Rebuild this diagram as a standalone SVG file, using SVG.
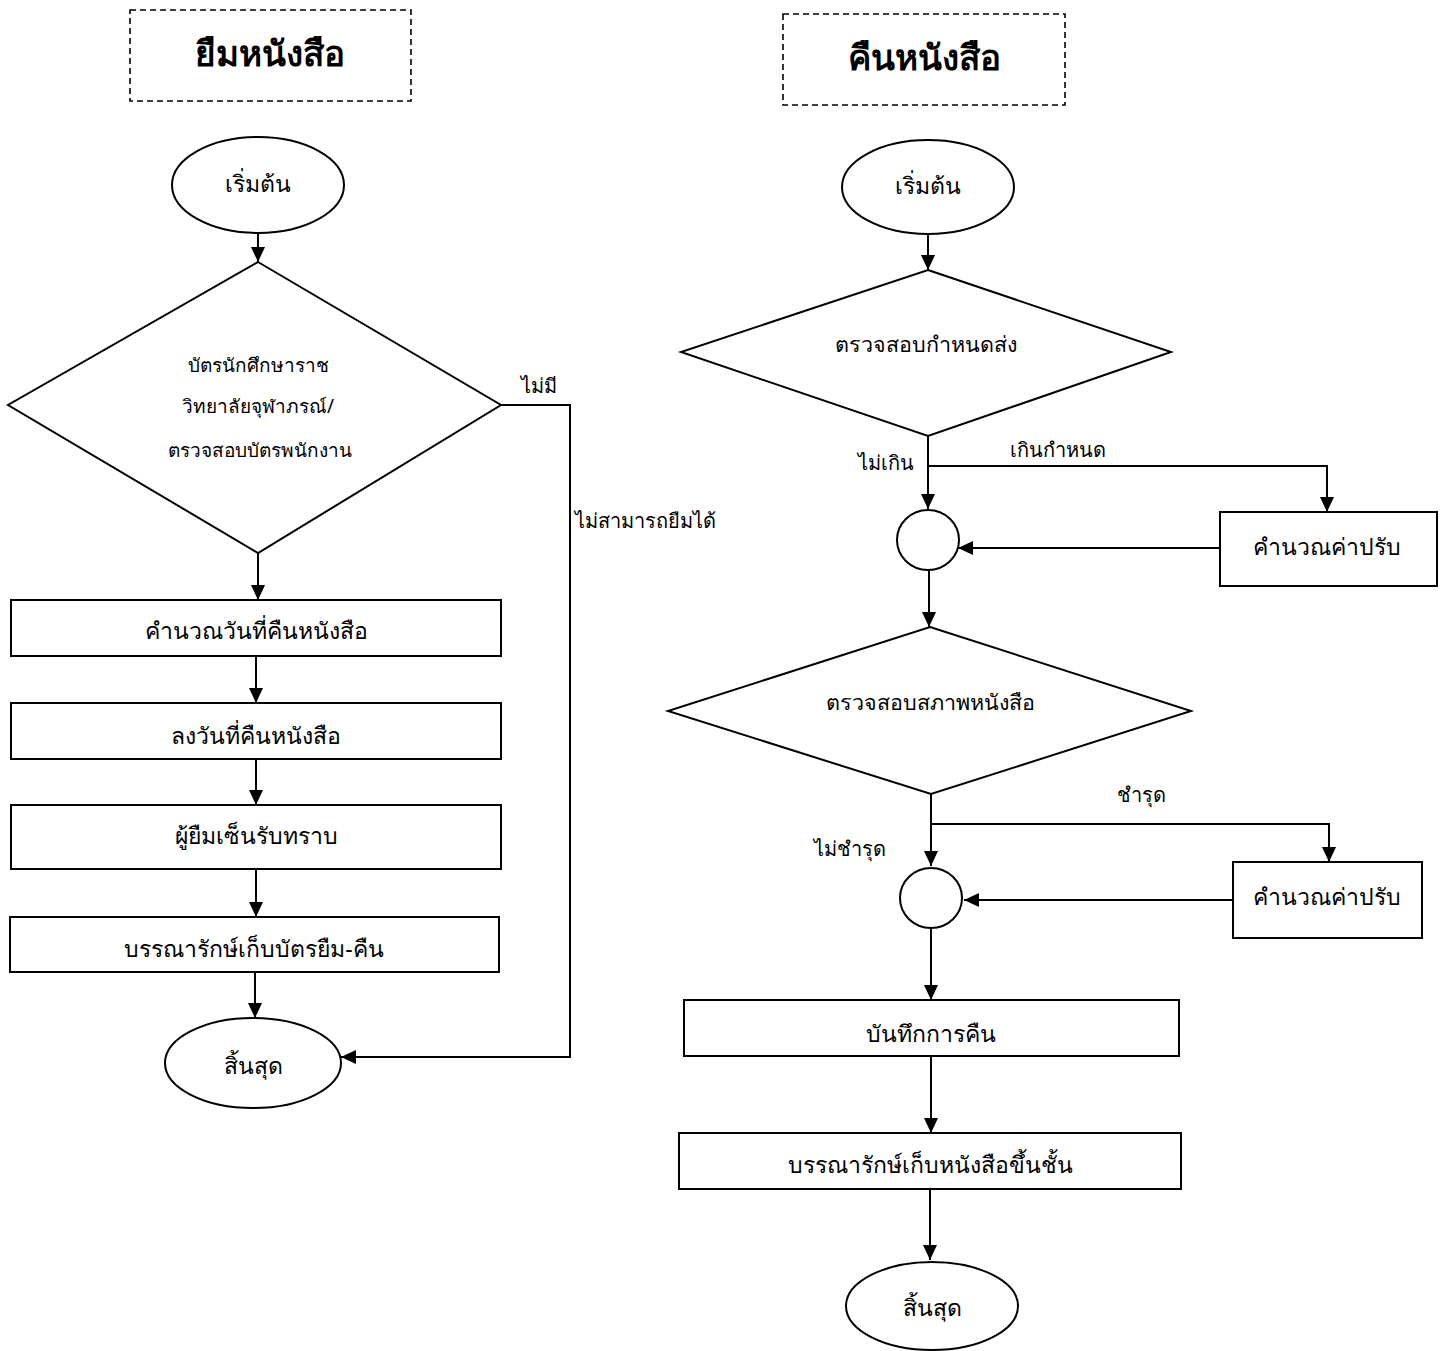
<svg xmlns="http://www.w3.org/2000/svg" width="1442" height="1351" viewBox="0 0 1442 1351">
<style>
.s{fill:#fff;stroke:#000;stroke-width:2}
.d{fill:none;stroke:#000;stroke-width:1.6;stroke-dasharray:6 4}
.c{fill:none;stroke:#000;stroke-width:2}
text{font-family:"Noto Sans","DejaVu Sans",sans-serif;fill:#000}
.t{font-size:23px;text-anchor:middle;dominant-baseline:central}
.l{font-size:19px}
.m{font-size:21.5px}
.q{font-size:20px}
.h{font-size:35px;font-weight:bold;text-anchor:middle;dominant-baseline:central}
</style>
<defs>
<marker id="a" markerWidth="15" markerHeight="14" refX="15" refY="7" orient="auto" markerUnits="userSpaceOnUse" viewBox="0 0 15 14">
<path d="M0,0 L15,7 L0,14 Z" fill="#000"/>
</marker>
</defs>
<rect width="1442" height="1351" fill="#fff"/>

<g id="title-borrow"><rect class="d" x="130" y="10" width="281" height="91"/><text class="h" x="270" y="52">ยืมหนังสือ</text></g>
<g id="title-return"><rect class="d" x="783" y="14" width="282" height="91"/><text class="h" x="924" y="56">คืนหนังสือ</text></g>

<g id="connectors">
<line class="c" x1="258" y1="233" x2="258" y2="262" marker-end="url(#a)"/>
<polyline class="c" points="501,405 570,405 570,1057 341,1057" marker-end="url(#a)"/>
<line class="c" x1="258" y1="553" x2="258" y2="600" marker-end="url(#a)"/>
<line class="c" x1="256" y1="656" x2="256" y2="703" marker-end="url(#a)"/>
<line class="c" x1="256" y1="759" x2="256" y2="805" marker-end="url(#a)"/>
<line class="c" x1="256" y1="869" x2="256" y2="917" marker-end="url(#a)"/>
<line class="c" x1="255" y1="972" x2="255" y2="1018" marker-end="url(#a)"/>

<line class="c" x1="928" y1="234" x2="928" y2="270" marker-end="url(#a)"/>
<line class="c" x1="928" y1="436" x2="928" y2="509" marker-end="url(#a)"/>
<polyline class="c" points="928,466 1327,466 1327,512" marker-end="url(#a)"/>
<line class="c" x1="1220" y1="548" x2="958" y2="548" marker-end="url(#a)"/>
<line class="c" x1="929" y1="571" x2="929" y2="627" marker-end="url(#a)"/>
<line class="c" x1="931" y1="794" x2="931" y2="866" marker-end="url(#a)"/>
<polyline class="c" points="931,824 1329,824 1329,862" marker-end="url(#a)"/>
<line class="c" x1="1233" y1="900" x2="964" y2="900" marker-end="url(#a)"/>
<line class="c" x1="931" y1="928" x2="931" y2="1000" marker-end="url(#a)"/>
<line class="c" x1="931" y1="1056" x2="931" y2="1133" marker-end="url(#a)"/>
<line class="c" x1="930" y1="1189" x2="930" y2="1260" marker-end="url(#a)"/>

<text class="q" x="521" y="393">ไม่มี</text>
<text class="q" x="575" y="528">ไม่สามารถยืมได้</text>
<text class="q" x="858" y="470">ไม่เกิน</text>
<text class="q" x="1010" y="457">เกินกำหนด</text>
<text class="q" x="1117" y="802">ชำรุด</text>
<text class="q" x="814" y="856">ไม่ชำรุด</text>
</g>

<g id="start-borrow"><ellipse class="s" cx="258" cy="185" rx="86" ry="48"/><text class="t" x="258" y="183">เริ่มต้น</text></g>
<g id="check-card"><polygon class="s" points="258,262 501,405 258,553 8,405"/>
<text class="t l" x="258" y="365">บัตรนักศึกษาราช</text>
<text class="t l" x="258" y="406">วิทยาลัยจุฬาภรณ์/</text>
<text class="t l" x="260" y="450">ตรวจสอบบัตรพนักงาน</text></g>
<g id="calc-date"><rect class="s" x="11" y="600" width="490" height="56"/><text class="t" x="256" y="630">คำนวณวันที่คืนหนังสือ</text></g>
<g id="write-date"><rect class="s" x="11" y="703" width="490" height="56"/><text class="t" x="256" y="735">ลงวันที่คืนหนังสือ</text></g>
<g id="sign"><rect class="s" x="11" y="805" width="490" height="64"/><text class="t" x="256" y="835">ผู้ยืมเซ็นรับทราบ</text></g>
<g id="keep-card"><rect class="s" x="10" y="917" width="489" height="55"/><text class="t" x="254" y="948">บรรณารักษ์เก็บบัตรยืม-คืน</text></g>
<g id="end-borrow"><ellipse class="s" cx="253" cy="1063" rx="88" ry="45"/><text class="t" x="253" y="1065">สิ้นสุด</text></g>

<g id="start-return"><ellipse class="s" cx="928" cy="187" rx="86" ry="47"/><text class="t" x="928" y="185">เริ่มต้น</text></g>
<g id="check-due"><polygon class="s" points="928,270 1171,352 928,436 681,352"/><text class="t m" x="926" y="343">ตรวจสอบกำหนดส่ง</text></g>
<g id="merge1"><ellipse class="s" cx="928" cy="540" rx="31" ry="30"/></g>
<g id="fine1"><rect class="s" x="1220" y="512" width="217" height="74"/><text class="t" x="1327" y="546">คำนวณค่าปรับ</text></g>
<g id="check-cond"><polygon class="s" points="930,627 1191,711 931,794 668,711"/><text class="t m" x="930" y="701">ตรวจสอบสภาพหนังสือ</text></g>
<g id="merge2"><ellipse class="s" cx="931" cy="898" rx="31" ry="30"/></g>
<g id="fine2"><rect class="s" x="1233" y="862" width="189" height="76"/><text class="t" x="1327" y="896">คำนวณค่าปรับ</text></g>
<g id="record"><rect class="s" x="684" y="1000" width="495" height="56"/><text class="t" x="931" y="1033">บันทึกการคืน</text></g>
<g id="shelve"><rect class="s" x="679" y="1133" width="502" height="56"/><text class="t" x="930" y="1164">บรรณารักษ์เก็บหนังสือขึ้นชั้น</text></g>
<g id="end-return"><ellipse class="s" cx="932" cy="1306" rx="86" ry="44"/><text class="t" x="932" y="1307">สิ้นสุด</text></g>
</svg>
